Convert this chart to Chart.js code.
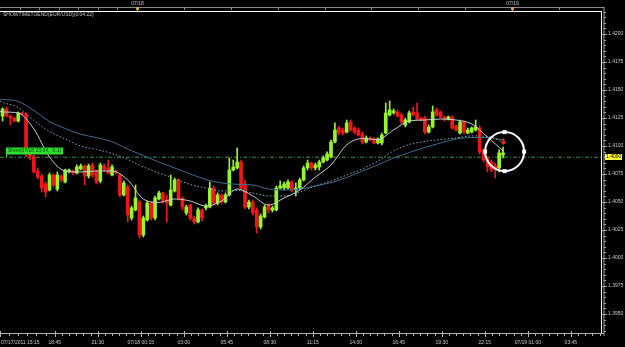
<!DOCTYPE html>
<html><head><meta charset="utf-8">
<script src="https://cdn.jsdelivr.net/npm/chart.js@4.4.0/dist/chart.umd.min.js"></script>
<style>html,body{margin:0;padding:0;background:#000;overflow:hidden}canvas{display:block}</style>
</head><body><canvas id="c" width="625" height="347"></canvas>
<script>
// ---------- data (EUR/USD, 15-minute candles from 07/17/2011 15:15) ----------
const chartTitle = 'SHOWTIMETOEND(EUR/USD)(0:04:22)';
const openP = [1.41268,1.41331,1.41268,1.41250,1.41223,1.41295,1.41286,1.40965,1.40911,1.40777,
1.40732,1.40661,1.40607,1.40741,1.40616,1.40732,1.40679,1.40777,1.40777,1.40759,
1.40795,1.40822,1.40732,1.40831,1.40768,1.40688,1.40822,1.40804,1.40741,1.40768,
1.40741,1.40563,1.40634,1.40357,1.40429,1.40500,1.40205,1.40339,1.40491,1.40357,
1.40527,1.40581,1.40518,1.40473,1.40598,1.40697,1.40536,1.40402,1.40473,1.40357,
1.40322,1.40429,1.40447,1.40455,1.40625,1.40491,1.40563,1.40500,1.40563,1.40786,
1.40804,1.40857,1.40661,1.40455,1.40500,1.40429,1.40277,1.40366,1.40473,1.40429,
1.40429,1.40625,1.40625,1.40625,1.40679,1.40607,1.40625,1.40697,1.40804,1.40848,
1.40804,1.40813,1.40857,1.40875,1.40902,1.41036,1.41161,1.41143,1.41125,1.41215,
1.41161,1.41143,1.41107,1.41036,1.41063,1.41063,1.41027,1.41027,1.41116,1.41277,
1.41295,1.41304,1.41277,1.41188,1.41215,1.41304,1.41295,1.41250,1.41250,1.41125,
1.41170,1.41322,1.41304,1.41259,1.41241,1.41259,1.41179,1.41116,1.41215,1.41116,
1.41125,1.41143,1.41161,1.40965,1.40893,1.40857,1.40822,1.40804,1.40920];
const highP = [1.41340,1.41348,1.41277,1.41259,1.41304,1.41304,1.41295,1.40973,1.40920,1.40804,
1.40750,1.40679,1.40759,1.40750,1.40768,1.40741,1.40795,1.40795,1.40786,1.40831,
1.40839,1.40831,1.40839,1.40848,1.40786,1.40848,1.40839,1.40875,1.40831,1.40786,
1.40750,1.40688,1.40652,1.40464,1.40652,1.40518,1.40375,1.40509,1.40500,1.40554,
1.40598,1.40589,1.40563,1.40741,1.40714,1.40706,1.40545,1.40473,1.40482,1.40375,
1.40447,1.40438,1.40482,1.40679,1.40643,1.40581,1.40572,1.40581,1.40893,1.40875,
1.40982,1.40875,1.40697,1.40518,1.40518,1.40447,1.40393,1.40473,1.40482,1.40464,
1.40643,1.40688,1.40679,1.40697,1.40688,1.40670,1.40714,1.40822,1.40875,1.40857,
1.40848,1.40875,1.40911,1.40947,1.41054,1.41206,1.41179,1.41161,1.41232,1.41232,
1.41170,1.41161,1.41125,1.41090,1.41081,1.41072,1.41072,1.41116,1.41384,1.41402,
1.41331,1.41322,1.41295,1.41250,1.41313,1.41348,1.41384,1.41259,1.41268,1.41188,
1.41357,1.41340,1.41313,1.41268,1.41268,1.41268,1.41188,1.41232,1.41223,1.41161,
1.41170,1.41232,1.41179,1.40973,1.40902,1.40875,1.40848,1.40965,1.40991];
const lowP = [1.41223,1.41259,1.41188,1.41215,1.41215,1.41277,1.40902,1.40875,1.40759,1.40706,
1.40589,1.40545,1.40598,1.40634,1.40598,1.40679,1.40670,1.40759,1.40741,1.40750,
1.40786,1.40652,1.40714,1.40723,1.40661,1.40670,1.40777,1.40750,1.40732,1.40750,
1.40545,1.40554,1.40322,1.40339,1.40420,1.40179,1.40188,1.40330,1.40339,1.40339,
1.40518,1.40491,1.40322,1.40464,1.40589,1.40518,1.40429,1.40384,1.40339,1.40304,
1.40313,1.40330,1.40429,1.40447,1.40473,1.40473,1.40482,1.40491,1.40554,1.40777,
1.40795,1.40607,1.40438,1.40438,1.40384,1.40223,1.40259,1.40357,1.40402,1.40411,
1.40420,1.40616,1.40607,1.40616,1.40589,1.40554,1.40607,1.40688,1.40786,1.40786,
1.40786,1.40786,1.40848,1.40866,1.40893,1.41027,1.41098,1.41098,1.41116,1.41134,
1.41107,1.41090,1.41018,1.41027,1.41045,1.41018,1.41018,1.41009,1.41107,1.41268,
1.41286,1.41259,1.41197,1.41170,1.41206,1.41268,1.41232,1.41223,1.41107,1.41116,
1.41161,1.41268,1.41250,1.41223,1.41232,1.41152,1.41134,1.41107,1.41107,1.41107,
1.41116,1.41134,1.40929,1.40857,1.40768,1.40768,1.40714,1.40768,1.40893];
const closeP = [1.41331,1.41268,1.41250,1.41223,1.41295,1.41286,1.40965,1.40911,1.40768,1.40723,
1.40625,1.40589,1.40741,1.40652,1.40741,1.40697,1.40786,1.40781,1.40759,1.40813,
1.40822,1.40732,1.40822,1.40741,1.40679,1.40831,1.40795,1.40759,1.40813,1.40764,
1.40563,1.40670,1.40384,1.40447,1.40536,1.40205,1.40357,1.40491,1.40357,1.40536,
1.40581,1.40509,1.40491,1.40607,1.40697,1.40536,1.40455,1.40455,1.40357,1.40322,
1.40429,1.40357,1.40464,1.40625,1.40491,1.40563,1.40500,1.40563,1.40786,1.40813,
1.40857,1.40625,1.40455,1.40500,1.40402,1.40277,1.40375,1.40455,1.40429,1.40447,
1.40625,1.40643,1.40661,1.40679,1.40607,1.40625,1.40697,1.40804,1.40848,1.40804,
1.40831,1.40857,1.40893,1.40929,1.41036,1.41143,1.41116,1.41116,1.41206,1.41143,
1.41125,1.41098,1.41036,1.41072,1.41059,1.41027,1.41063,1.41098,1.41295,1.41322,
1.41313,1.41268,1.41215,1.41232,1.41295,1.41277,1.41241,1.41232,1.41125,1.41170,
1.41304,1.41277,1.41259,1.41241,1.41259,1.41161,1.41143,1.41215,1.41125,1.41143,
1.41161,1.41170,1.40947,1.40875,1.40813,1.40786,1.40804,1.40938,1.40938];

// moving averages, read at these candle positions
const maAt = [-0.66,0,4,8,12,16,20,24,28,32,36,40,44,48,52,56,60,64,68,72,76,80,84,88,92,96,100,104,108,112,116,120,124,128];
const maFast = [1.41307,1.41304,1.41295,1.41152,1.40902,1.40777,1.40768,1.40777,1.40777,1.40697,1.40527,1.40496,1.40527,1.40509,1.40464,1.40509,1.40616,1.40554,1.40473,1.40536,1.40607,1.40723,1.40831,1.41009,1.41067,1.41058,1.41143,1.41223,1.41232,1.41241,1.41232,1.41197,1.41081,1.40956];
const maMid = [1.41399,1.41389,1.41344,1.41228,1.41130,1.41063,1.41000,1.40969,1.40933,1.40880,1.40813,1.40759,1.40710,1.40656,1.40625,1.40598,1.40603,1.40580,1.40554,1.40554,1.40590,1.40643,1.40688,1.40741,1.40795,1.40866,1.40956,1.41014,1.41040,1.41058,1.41072,1.41090,1.41085,1.41036];
const maSlow = [1.41416,1.41415,1.41398,1.41317,1.41219,1.41156,1.41105,1.41075,1.41038,1.40973,1.40914,1.40857,1.40804,1.40750,1.40701,1.40670,1.40658,1.40652,1.40616,1.40607,1.40616,1.40643,1.40674,1.40719,1.40777,1.40831,1.40893,1.40942,1.40987,1.41027,1.41063,1.41076,1.41076,1.41054];

// axes
const xTickBars = [0,14,25,36,47,58,69,80,91,102,113,124,135,146];
const xTickLabels = ['07/17/2011 15:15','18:45','21:30','07/18 00:15','03:00','05:45','08:30','11:15','14:00','16:45','19:30','22:15','07/19 01:00','03:45'];
const topTickBars = [5,10,15,20,25,30,35,47,59,71,83,95,107,119,131,143];
const topDateBars = [35,131];
const topDateLabels = ['07/18','07/19'];
const yTickValues = [1.3950,1.3975,1.4000,1.4025,1.4050,1.4075,1.4100,1.4125,1.4150,1.4175,1.4200];
const alertLevel = 1.4090;
const orderText = 'Short(07/18 23:34, -0.1)';
const markIndex = 128.4, markPrice = 1.4095, arrowPrice = 1.4104;

// ---------- drawing ----------
const BAR0 = -0.66;          // x value of the 07/17 15:15 tick, in candle units
const X_MAX = 153.05;
const UP = '#97f52c', DN = '#f0161c';
const FONT = '5px "Liberation Sans", Arial, sans-serif';
const isUp = openP.map((o,i)=>closeP[i] >= o);
const candleCol = isUp.map(u=>u?UP:DN);

const decor = {
  id:'decor',
  afterDraw(chart){
    const c = chart.ctx, xs = chart.scales.x, ys = chart.scales.y, a = chart.chartArea;
    const bx = b => xs.getPixelForValue(b + BAR0);
    const ln = (x1,y1,x2,y2)=>{c.beginPath();c.moveTo(x1,y1);c.lineTo(x2,y2);c.stroke();};
    c.save();
    c.lineWidth = 1;
    // top time strip
    c.strokeStyle = '#8a8a8a';
    ln(0,7.5,604,7.5);
    topTickBars.forEach(b=>{const p=Math.round(bx(b))+0.5; ln(p,7.5,p,10);});
    c.font = FONT; c.fillStyle = '#c8c8c8'; c.textAlign='center'; c.textBaseline='middle';
    topDateBars.forEach((b,i)=>{
      const p = Math.round(bx(b))+0.5;
      c.fillText(topDateLabels[i], p, 3.5);
      c.fillStyle = '#d4a43c'; c.fillRect(p-1.5,7,3,3);
      c.strokeStyle = '#d4a43c'; ln(p,9,p,12);
      c.fillStyle = '#c8c8c8';
    });
    // frame
    c.strokeStyle = '#ffffff';
    ln(0, a.top+0.5, a.right+0.5, a.top+0.5);
    ln(a.right+0.5, a.top, a.right+0.5, a.bottom);
    // right axis line + minor ticks
    c.strokeStyle = '#a8a8a8';
    ln(a.right+3, 7, a.right+3, a.bottom+3);
    for (let k=0;k<=57;k++){
      const v = 1.3935 + k*0.0005;
      const py = Math.round(ys.getPixelForValue(v))+0.5;
      if (py>a.top && py<a.bottom) ln(a.right+3, py, a.right+5, py);
    }
    // bottom axis
    c.strokeStyle = '#b4b4b4';
    ln(0, a.bottom+0.5, a.right+3, a.bottom+0.5);
    const minors = [];
    for (let i=0;i<xTickBars.length;i++){
      const b0 = xTickBars[i], b1 = i+1<xTickBars.length ? xTickBars[i+1] : xTickBars[i]+11;
      for (let s=1;s<6;s++) minors.push(b0 + (b1-b0)*s/6);
    }
    minors.forEach(b=>{const p=Math.round(bx(b))+0.5; if(p<a.right) ln(p,a.bottom,p,a.bottom+3);});
    xTickBars.forEach(b=>{const p=Math.round(bx(b))+0.5; ln(p,a.bottom-2,p,a.bottom+4);});
    c.fillStyle = '#c8c8c8'; c.textBaseline='middle';
    xTickBars.forEach((b,i)=>{
      const p = bx(b);
      if (i===0){c.textAlign='left'; c.fillText(xTickLabels[i], 1, a.bottom+9.5);}
      else {c.textAlign='center'; c.fillText(xTickLabels[i], p, a.bottom+9.5);}
    });
    // title
    c.textAlign='left'; c.fillStyle='#c4c4c4';
    c.fillText(chartTitle, 3, 15);
    // order label on the alert line
    const ay = ys.getPixelForValue(alertLevel);
    c.fillStyle = '#2fe02f';
    c.fillRect(6, Math.round(ay)-9.5, 57, 7);
    c.strokeStyle = '#2fe02f'; ln(6.5, ay-3, 6.5, ay);
    c.fillStyle = '#0b3d0b'; c.textAlign='left';
    c.fillText(orderText, 8, Math.round(ay)-6);
    // price tag on the right axis
    c.fillStyle = '#ffff3a';
    c.fillRect(a.right+4, Math.round(ay)-3, 17, 6);
    c.fillStyle = '#000'; c.fillText(alertLevel.toFixed(4), a.right+5, Math.round(ay));
    // selection circle with handles
    const cx = xs.getPixelForValue(markIndex), cy = ys.getPixelForValue(markPrice), r = 19.5;
    c.strokeStyle = '#ffffff'; c.lineWidth = 2;
    c.beginPath(); c.arc(cx, cy, r, 0, Math.PI*2); c.stroke();
    c.fillStyle = '#ffffff';
    [[0,-r],[0,r],[-r,0],[r,0]].forEach(([dx,dy])=>c.fillRect(cx+dx-2, cy+dy-2, 4, 4));
    // red arrow
    const ax = xs.getPixelForValue(openP.length-1), ayy = ys.getPixelForValue(arrowPrice);
    c.fillStyle = '#ff2a2a';
    c.fillRect(Math.round(ax)-0.5, ayy-3, 2, 3);
    c.beginPath(); c.moveTo(ax-2.5, ayy); c.lineTo(ax+3.5, ayy); c.lineTo(ax+0.5, ayy+3.5); c.closePath(); c.fill();
    c.restore();
  }
};

new Chart(document.getElementById('c').getContext('2d'), {
  type:'bar',
  data:{datasets:[
    {type:'line', data:maAt.map((x,i)=>({x, y:maFast[i]})), borderColor:'#c9cdd0', borderWidth:1, pointRadius:0, cubicInterpolationMode:'monotone', order:0},
    {type:'line', data:maAt.map((x,i)=>({x, y:maMid[i]})), borderColor:'#86aebf', borderWidth:1, borderDash:[1.5,2], pointRadius:0, cubicInterpolationMode:'monotone', order:0},
    {type:'line', data:maAt.map((x,i)=>({x, y:maSlow[i]})), borderColor:'#3d6d8e', borderWidth:1, pointRadius:0, cubicInterpolationMode:'monotone', order:0},
    {type:'line', data:[{x:BAR0, y:alertLevel},{x:X_MAX, y:alertLevel}], borderColor:'#3d9a3d', borderWidth:1, borderDash:[4,2,1,2], pointRadius:0, order:3},
    {data:openP.map((o,i)=>({x:i, y:[lowP[i], highP[i]]})), backgroundColor:candleCol, barThickness:1, grouped:false, order:2},
    {data:openP.map((o,i)=>({x:i, y:[o, closeP[i]]})), backgroundColor:candleCol, barThickness:3, grouped:false, minBarLength:1, order:1}
  ]},
  options:{
    responsive:false, animation:false, devicePixelRatio:1,
    layout:{padding:{left:0,right:0,top:11,bottom:14}},
    plugins:{legend:{display:false}, tooltip:{enabled:false}},
    scales:{
      x:{type:'linear', min:BAR0, max:X_MAX, display:false, offset:false},
      y:{position:'right', min:1.393304, max:1.422054,
         afterBuildTicks:s=>{s.ticks = yTickValues.map(v=>({value:v}));},
         afterFit:s=>{s.width = 24;},
         grid:{drawOnChartArea:false, tickLength:6, color:'#a8a8a8', tickColor:'#a8a8a8'},
         border:{display:false},
         ticks:{color:'#c8c8c8', font:{size:5, family:'"Liberation Sans", Arial, sans-serif'}, padding:1, callback:v=>Number(v).toFixed(4)}}
    }
  },
  plugins:[decor]
});
</script>
</body></html>
